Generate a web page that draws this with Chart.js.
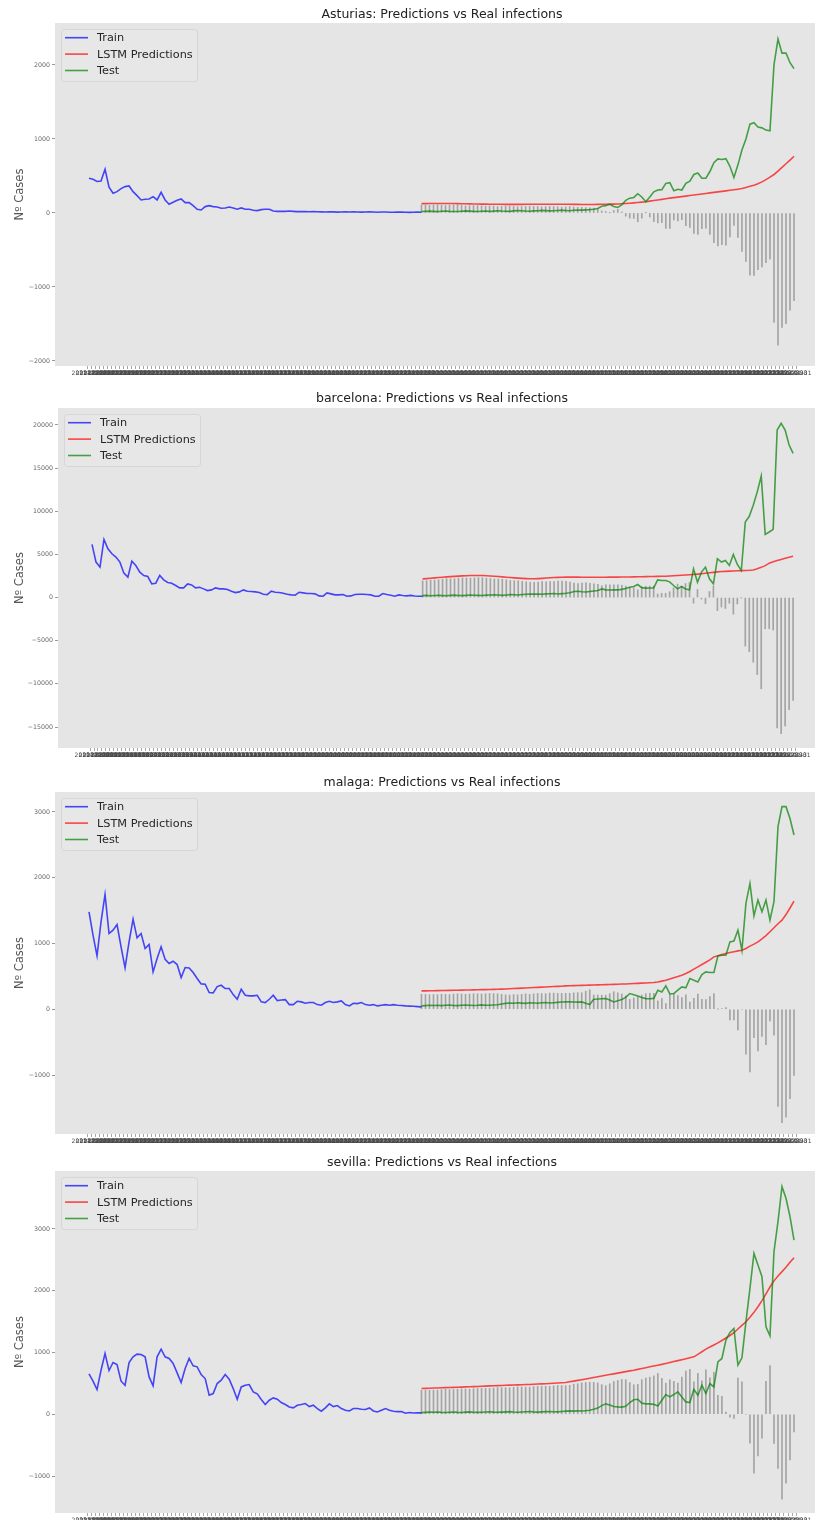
<!DOCTYPE html>
<html><head><meta charset="utf-8">
<script src="https://cdn.jsdelivr.net/npm/chart.js@4.4.1/dist/chart.umd.min.js"></script>
<style>
html,body{margin:0;padding:0;background:#fff;}
body{width:815px;height:1520px;position:relative;overflow:hidden;}
canvas{position:absolute;left:0;}
</style></head><body>
<canvas id="c0" width="815" height="380" style="top:0px;width:815px;height:380px"></canvas>
<canvas id="c1" width="815" height="385" style="top:380px;width:815px;height:385px"></canvas>
<canvas id="c2" width="815" height="380" style="top:765px;width:815px;height:380px"></canvas>
<canvas id="c3" width="815" height="375" style="top:1145px;width:815px;height:375px"></canvas>
<script>
// ---------- data ----------
const TEST_START = 83;          // index where the test period begins
const N_DAYS = 177;
const dateLabels = Array.from({length: N_DAYS}, (_, i) =>
  new Date(Date.UTC(2021, 7, 8 + i)).toISOString().slice(0, 10));

const asturiasTrain = [470,455,425,432,590,347,266,288,329,356,
 365,288,234,176,185,189,221,176,279,176,
 117,144,171,189,140,140,99,50,40,86,
 99,86,81,63,68,81,68,50,68,50,
 50,36,32,45,50,50,27,22,22,22,
 27,22,18,20,18,16,18,17,15,14,
 16,15,12,14,16,13,15,14,12,13,
 15,12,10,14,12,10,9,11,12,9,
 8,10,12,10];
const asturiasTest = [20,22,25,21,18,24,26,22,20,19,23,28,25,22,20,24,27,22,25,30,
 26,24,22,28,32,30,26,24,28,30,35,32,28,30,34,38,34,30,36,40,38,42,45,50,
 60,90,99,117,88,74,110,170,200,210,260,216,150,215,285,310,315,400,410,300,
 320,310,400,430,520,540,470,470,560,680,730,722,734,631,480,650,850,1000,1200,1220,
 1162,1150,1120,1110,2000,2350,2160,2162,2030,1950];
const asturiasPred = [126,126,127,127,127,128,128,128,127,126,125,124,123,122,121,120,119,118,118,117,117,
 116,116,116,116,116,117,117,117,118,118,118,118,118,118,117,117,117,116,116,115,115,115,115,116,117,
 118,119,120,122,124,127,131,136,141,146,152,160,168,176,184,192,200,207,214,221,228,235,242,250,257,264,271,278,285,292,299,306,313,321,
 330,345,360,375,395,420,450,485,520,565,615,665,715,766];

const barcelonaTrain = [6163,4109,3527,6744,5659,5078,4690,4109,2830,2364,
 4225,3721,2946,2558,2442,1589,1667,2558,2054,1744,
 1667,1395,1124,1124,1589,1473,1124,1202,1008,814,
 891,1124,1008,1008,930,736,581,659,891,736,
 698,659,581,388,349,736,620,581,504,388,
 310,271,620,543,465,465,426,194,155,543,
 426,310,310,349,155,194,349,388,388,349,
 310,155,155,465,349,271,155,310,232,200,
 250,180,160,155];
const barcelonaTest = [230,250,220,240,260,230,210,250,280,240,230,260,300,270,250,240,280,300,320,290,
 260,300,340,320,300,350,380,400,
 420,400,380,430,450,480,420,460,500,560,700,740,680,650,700,760,820,
 1000,890,880,900,890,950,1050,1200,1280,1510,1150,1100,1110,1124,
 2054,1977,1980,1822,1400,1008,1280,1000,890,3333,1780,2950,3530,2170,1590,
 4500,4110,4300,3720,5000,3840,3140,8760,9420,10700,12250,14070,7330,7600,7910,19420,20190,19420,17680,16710];
const barcelonaPred = [2170,2200,2240,2280,2320,2360,2400,2430,2460,2490,2510,2530,2550,
 2560,2560,2550,2530,2500,2470,2440,2400,2360,2320,2280,2250,2220,2200,2180,
 2180,2200,2230,2260,2290,2320,2340,2360,2370,2370,2370,2370,2360,2360,2350,2350,2350,2360,2360,2370,2370,2370,2380,2380,2390,2400,
 2410,2420,2430,2440,2450,2460,2470,2480,2500,2530,2560,2590,2620,2650,2680,2720,2770,2820,2870,2920,
 2980,3020,3040,3060,3080,3100,3120,3140,3160,3200,3330,3500,3700,3990,4150,4300,4420,4550,4680,4800];

const malagaTrain = [1482,1127,812,1330,1746,1152,1203,1289,949,629,
 1025,1370,1086,1152,924,985,568,771,949,761,
 695,731,680,482,634,629,558,467,386,381,
 254,249,345,365,315,315,223,152,305,213,
 203,203,213,112,102,152,213,132,142,147,
 71,71,122,112,91,102,102,71,61,102,
 122,102,112,127,71,51,91,86,102,71,
 61,71,51,61,71,61,71,61,56,51,
 48,45,40,36];
const malagaTest = [51,55,60,58,62,56,60,64,58,55,60,65,62,58,60,66,62,60,64,68,
 80,90,96,92,98,94,90,100,96,92,98,102,96,100,105,110,
 112,115,110,108,112,90,
 71,152,155,160,162,140,112,130,150,180,239,220,203,180,162,160,165,
 289,264,355,233,239,290,340,325,467,442,416,528,568,558,560,812,
 822,822,1025,1036,1203,898,1609,1914,1421,1660,1482,1660,1355,1635,2777,3081,3081,2900,2650];
const malagaPred = [279,280,281,282,283,285,286,287,288,290,291,292,294,295,296,298,299,300,302,304,
 306,309,312,315,318,321,324,327,330,333,336,339,342,345,348,351,355,
 357,359,361,363,365,367,369,371,373,375,377,379,381,383,385,388,391,
 394,397,400,403,406,415,428,442,460,478,497,518,545,575,610,645,680,715,750,797,
 815,833,848,863,875,888,898,925,960,990,1025,1070,1120,1178,1240,1300,1355,1440,1540,1645];

const sevillaTrain = [654,535,400,713,984,708,838,805,535,470,
 838,930,973,967,930,605,459,930,1054,930,
 903,822,670,513,740,903,784,768,643,578,
 308,335,497,551,643,567,416,243,443,470,
 481,362,330,238,157,227,265,243,189,157,
 119,103,146,157,173,124,146,92,49,103,
 168,124,141,92,65,54,92,92,81,76,
 103,54,38,65,92,65,49,43,43,16,
 28,20,25,22];
const sevillaTest = [27,30,34,32,36,30,28,33,36,31,29,34,38,33,30,32,36,40,35,32,
 35,38,42,36,33,37,40,44,38,35,38,42,45,40,38,44,50,55,
 50,55,52,58,65,80,100,140,168,150,125,119,115,130,190,235,243,180,168,168,
 160,135,227,319,281,319,362,281,200,189,405,308,470,335,497,443,
 849,903,1200,1324,1389,795,913,1497,2038,2605,2416,2227,1416,1270,2632,3119,3686,3497,3200,2821];
const sevillaPred = [416,419,421,424,426,429,431,433,436,438,440,443,
 445,448,450,453,456,459,461,464,466,469,471,474,476,478,481,483,486,
 489,492,495,498,501,505,509,513,
 525,537,548,560,572,584,596,607,619,631,643,654,666,678,690,702,713,
 727,740,754,768,781,795,808,822,
 837,853,868,884,899,915,930,
 970,1012,1054,1088,1122,1156,1195,1235,1275,1320,1380,1440,1497,1570,1650,1740,1840,1950,2060,2160,2240,2310,2380,2460,2535];

const ticksSmall = [-2000, -1000, 0, 1000, 2000];
const ticksBarcelona = [-15000, -10000, -5000, 0, 5000, 10000, 15000, 20000];
const ticksMid = [-1000, 0, 1000, 2000, 3000];

// ---------- styles ----------
const BLUE = 'rgba(0,0,255,0.7)';
const RED = 'rgba(255,0,0,0.7)';
const GREEN = 'rgba(0,128,0,0.7)';
const GREY = 'rgba(120,120,120,0.6)';
Chart.defaults.font.family = '"DejaVu Sans", sans-serif';

const bgPlugin = {
  id: 'axbg',
  beforeDraw(chart) {
    const {ctx, chartArea: a} = chart;
    ctx.save();
    ctx.fillStyle = '#e5e5e5';
    ctx.fillRect(a.left, a.top, a.right - a.left, a.bottom - a.top);
    ctx.restore();
  }
};
const overlayPlugin = {
  id: 'overlay',
  afterDatasetsDraw(chart, args, opts) {
    const {ctx, chartArea: a} = chart;
    ctx.save();
    const bx = a.left + 6, by = a.top + 6, bw = 136, bh = 52;
    ctx.beginPath();
    if (ctx.roundRect) ctx.roundRect(bx + 0.5, by + 0.5, bw, bh, 3); else ctx.rect(bx + 0.5, by + 0.5, bw, bh);
    ctx.fillStyle = 'rgba(232,232,232,0.85)';
    ctx.fill();
    ctx.strokeStyle = '#d6d6d6';
    ctx.lineWidth = 1;
    ctx.stroke();
    const items = [['Train', BLUE], ['LSTM Predictions', RED], ['Test', GREEN]];
    ctx.font = '11.3px "DejaVu Sans"';
    ctx.textBaseline = 'middle';
    ctx.textAlign = 'left';
    items.forEach(([t, c], j) => {
      const yy = a.top + 14.7 + j * 16.4;
      ctx.strokeStyle = c; ctx.lineWidth = 1.6;
      ctx.beginPath(); ctx.moveTo(a.left + 10, yy); ctx.lineTo(a.left + 33, yy); ctx.stroke();
      ctx.fillStyle = '#262626';
      ctx.fillText(t, a.left + 42, yy + 0.5);
    });
    ctx.restore();
  },
  afterDraw(chart, args, opts) {
    const {ctx, chartArea: a} = chart;
    ctx.save();
    ctx.font = '12.5px "DejaVu Sans"';
    ctx.fillStyle = '#222';
    ctx.textAlign = 'center';
    ctx.textBaseline = 'middle';
    ctx.fillText(opts.title, 442, opts.titleY);
    ctx.translate(20, (a.top + a.bottom) / 2);
    ctx.rotate(-Math.PI / 2);
    ctx.font = '11.5px "DejaVu Sans"';
    ctx.fillStyle = '#555';
    ctx.fillText('Nº Cases', 0, 0);
    ctx.restore();
  }
};

function makeChart(id, cfg) {
  const canvas = document.getElementById(id);
  const H = canvas.height;
  const pts = (arr, start) => arr.map((v, k) => ({x: start + k, y: v}));
  const resid = cfg.pred.map((p, k) => ({x: TEST_START + k, y: p - cfg.test[k]}));
  new Chart(canvas, {
    type: 'line',
    data: {
      datasets: [
        {type: 'line', label: 'Test', data: pts(cfg.test, TEST_START), borderColor: GREEN, borderWidth: 1.6, pointRadius: 0, tension: 0, order: 1},
        {type: 'line', label: 'LSTM Predictions', data: pts(cfg.pred, TEST_START), borderColor: RED, borderWidth: 1.6, pointRadius: 0, tension: 0, order: 2},
        {type: 'line', label: 'Train', data: pts(cfg.train, 0), borderColor: BLUE, borderWidth: 1.6, pointRadius: 0, tension: 0, order: 3},
        {type: 'bar', label: 'Error', data: resid, backgroundColor: GREY, borderWidth: 0, barThickness: 1, order: 10}
      ]
    },
    options: {
      responsive: false, animation: false, devicePixelRatio: 1,
      layout: {padding: {top: cfg.top, left: 0, right: 0, bottom: 0}},
      plugins: {legend: {display: false}, tooltip: {enabled: false}, title: {display: false},
                overlay: {title: cfg.title, titleY: cfg.titleY}},
      scales: {
        x: {
          type: 'linear', position: 'bottom', min: cfg.xmin, max: cfg.xmax, bounds: 'data', offset: false,
          afterBuildTicks: s => { s.ticks = dateLabels.map((_, i) => ({value: i})); },
          afterFit: s => { s.height = H - cfg.bottom; },
          ticks: {autoSkip: false, maxRotation: 0, minRotation: 0, padding: 1,
                  font: {size: 6}, color: '#4a4a4a',
                  callback: v => (dateLabels[v] !== undefined ? dateLabels[v] : '')},
          grid: {display: true, drawOnChartArea: false, drawTicks: true, tickLength: 3, tickWidth: 1, tickColor: '#a8a8a8'},
          border: {display: false}
        },
        y: {
          type: 'linear', position: 'left', min: cfg.ymin, max: cfg.ymax, bounds: 'data',
          afterBuildTicks: s => { s.ticks = cfg.yticks.map(v => ({value: v})); },
          afterFit: s => { s.width = cfg.left; },
          ticks: {padding: 2, font: {size: 6.3}, color: '#666',
                  callback: v => (v < 0 ? '\u2212' + Math.abs(v) : String(v))},
          grid: {display: true, drawOnChartArea: false, drawTicks: true, tickLength: 3, tickColor: '#999'},
          border: {display: false}
        }
      }
    },
    plugins: [bgPlugin, overlayPlugin]
  });
}

makeChart('c0', {title: 'Asturias: Predictions vs Real infections', titleY: 15,
  train: asturiasTrain, test: asturiasTest, pred: asturiasPred,
  top: 23, bottom: 366, left: 55, ymin: -2068, ymax: 2567, yticks: ticksSmall, xmin: -8.49, xmax: 181.24});
makeChart('c1', {title: 'barcelona: Predictions vs Real infections', titleY: 19,
  train: barcelonaTrain, test: barcelonaTest, pred: barcelonaPred,
  top: 28, bottom: 368, left: 58, ymin: -17433, ymax: 21970, yticks: ticksBarcelona, xmin: -8.54, xmax: 181.5});
makeChart('c2', {title: 'malaga: Predictions vs Real infections', titleY: 18,
  train: malagaTrain, test: malagaTest, pred: malagaPred,
  top: 27, bottom: 369, left: 55, ymin: -1897, ymax: 3304, yticks: ticksMid, xmin: -8.49, xmax: 181.24});
makeChart('c3', {title: 'sevilla: Predictions vs Real infections', titleY: 18,
  train: sevillaTrain, test: sevillaTest, pred: sevillaPred,
  top: 26, bottom: 368, left: 55, ymin: -1599, ymax: 3939, yticks: ticksMid, xmin: -8.49, xmax: 181.24});
</script>
</body></html>
